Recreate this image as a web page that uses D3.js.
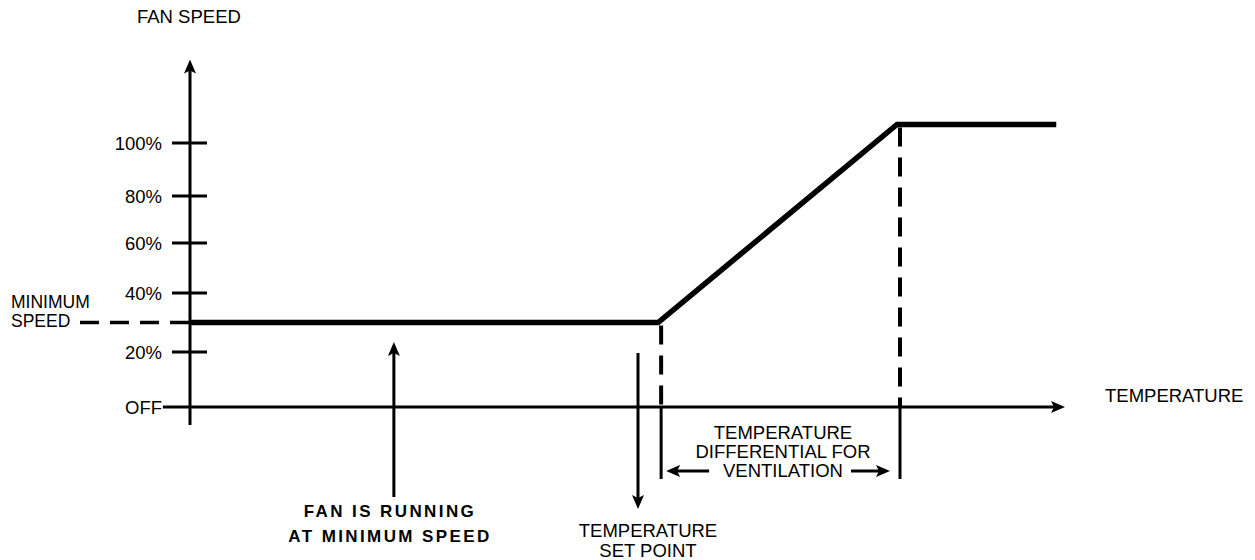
<!doctype html>
<meta charset='utf-8'>
<body style='margin:0;background:#fff'>
<script src='https://cdn.jsdelivr.net/npm/d3@7/dist/d3.min.js'></script>
<script>

var width = 1255,
    height = 560;

// fan speed ticks (percent) and their labels
var speedTicks = [0, 20, 40, 60, 80, 100];
var speedLabels = ['OFF', '20%', '40%', '60%', '80%', '100%'];

// control curve: temperature (arbitrary units) -> fan speed (%)
var curveTemp = [0, 53.5, 80.8, 99];
var curveSpeed = [30, 30, 107, 107];

var minSpeed = 30,
    setPoint = 53.5,
    fullSpeedTemp = 80.8,
    setPointArrow = 51.2,
    runningArrow = 23.3;

var font = 'Liberation Sans, Arial, Helvetica, sans-serif';

// the schematic ticks are not evenly spaced, so use a polylinear scale
var y = d3.scaleLinear()
    .domain([0, 20, 40, 60, 80, 100])
    .range([407, 352, 293, 243, 196, 143]);

var x = d3.scaleLinear()
    .domain([0, 100])
    .range([190, 1065]);

var svg = d3.select('body').append('svg')
    .attr('width', width)
    .attr('height', height)
    .style('display', 'block');

svg.append('defs').append('marker')
    .attr('id', 'head')
    .attr('markerUnits', 'userSpaceOnUse')
    .attr('viewBox', '0 0 14 12')
    .attr('markerWidth', 14)
    .attr('markerHeight', 12)
    .attr('refX', 4)
    .attr('refY', 6)
    .attr('orient', 'auto')
  .append('path')
    .attr('d', 'M0,0 L14,6 L0,12 L3,6 Z')
    .attr('fill', '#000');

// line with an arrowhead whose tip lands on (x2, y2)
function arrow(x1, y1, x2, y2, w) {
  var dx = x2 - x1, dy = y2 - y1, l = Math.sqrt(dx * dx + dy * dy);
  svg.append('line')
    .attr('x1', x1).attr('y1', y1)
    .attr('x2', x2 - dx / l * 10).attr('y2', y2 - dy / l * 10)
    .attr('stroke', '#000')
    .attr('stroke-width', w || 3)
    .attr('marker-end', 'url(#head)');
}

// axes
arrow(x(-3.1), y(0), x(100), y(0), 3);
arrow(x(0), y(-6.5), x(0), y(131.5), 3);

// y tick marks crossing the axis
svg.append('g').selectAll('line')
  .data(speedTicks.slice(1))
  .enter().append('line')
    .attr('x1', x(0) - 18)
    .attr('x2', x(0) + 17)
    .attr('y1', function(d) { return y(d); })
    .attr('y2', function(d) { return y(d); })
    .attr('stroke', '#000')
    .attr('stroke-width', 3);

// tick labels via the axis generator
var yAxis = d3.axisLeft(y)
    .tickValues(speedTicks)
    .tickFormat(function(d, i) { return speedLabels[i]; })
    .tickSize(0)
    .tickPadding(0);

var gy = svg.append('g')
    .attr('transform', 'translate(' + (x(0) - 28) + ',0)')
    .call(yAxis);
gy.select('.domain').remove();
gy.selectAll('text')
    .attr('font-family', font)
    .attr('font-size', 18.5)
    .attr('fill', '#000')
    .attr('dy', '0.36em');

// minimum speed leader
svg.append('line')
    .attr('x1', 80).attr('x2', x(0))
    .attr('y1', y(minSpeed)).attr('y2', y(minSpeed))
    .attr('stroke', '#000')
    .attr('stroke-width', 3.5)
    .attr('stroke-dasharray', '19,11');

// dashed drop lines and their solid extensions below the axis
[[setPoint, minSpeed], [fullSpeedTemp, 107]].forEach(function(p) {
  svg.append('line')
    .attr('x1', x(p[0]) + 3).attr('x2', x(p[0]) + 3)
    .attr('y1', y(p[1]) + 3).attr('y2', y(0))
    .attr('stroke', '#000')
    .attr('stroke-width', 4)
    .attr('stroke-dasharray', '19,11');
  svg.append('line')
    .attr('x1', x(p[0]) + 3).attr('x2', x(p[0]) + 3)
    .attr('y1', y(0)).attr('y2', y(0) + 72)
    .attr('stroke', '#000')
    .attr('stroke-width', 3);
});

// control curve
var line = d3.line()
    .x(function(d) { return x(d[0]); })
    .y(function(d) { return y(d[1]); });

svg.append('path')
    .datum(d3.zip(curveTemp, curveSpeed))
    .attr('d', line)
    .attr('fill', 'none')
    .attr('stroke', '#000')
    .attr('stroke-width', 5.5)
    .attr('stroke-linejoin', 'miter');

// annotation arrows
arrow(x(runningArrow), 497, x(runningArrow), 342, 3);
arrow(x(setPointArrow), 353, x(setPointArrow), 509, 3);
arrow(x(setPoint) + 51, 471, x(setPoint) + 8, 471, 3);
arrow(x(fullSpeedTemp) - 46, 471, x(fullSpeedTemp) - 7, 471, 3);

// text
function label(lines, cx, y0, step, opts) {
  var t = svg.append('text')
      .attr('font-family', font)
      .attr('font-size', opts.size || 18.5)
      .attr('font-weight', opts.bold ? 'bold' : 'normal')
      .attr('letter-spacing', opts.spacing || 0)
      .attr('text-anchor', opts.anchor || 'middle')
      .attr('fill', '#000');
  lines.forEach(function(s, i) {
    t.append('tspan').attr('x', cx).attr('y', y0 + i * step).text(s);
  });
}

label(['FAN SPEED'], 137, 23, 0, {anchor: 'start'});
label(['MINIMUM', 'SPEED'], 11, 308, 19, {anchor: 'start', size: 17.5});
label(['TEMPERATURE'], 1105, 402, 0, {anchor: 'start'});
label(['TEMPERATURE', 'DIFFERENTIAL FOR', 'VENTILATION'], 783, 439, 19, {});
label(['TEMPERATURE', 'SET POINT'], 648, 537, 20, {});
label(['FAN IS RUNNING', 'AT MINIMUM SPEED'], 390, 517, 25, {bold: true, size: 17, spacing: 2.4});

</script>
</body>
